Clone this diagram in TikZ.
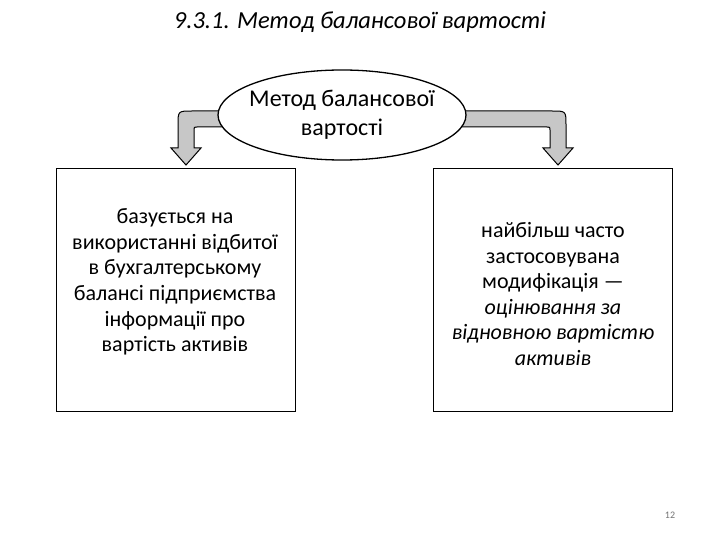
\documentclass[tikz,border=0pt]{standalone}
\usepackage{fontspec}
\usetikzlibrary{shapes.geometric}
\setmainfont{Carlito}
\begin{document}
\begin{tikzpicture}[x=1pt,y=-1pt,
  box/.style={draw,line width=1.3pt,minimum width=239pt,minimum height=243pt,anchor=north west},
  txt/.style={align=center,font=\fontsize{22}{25.6}\selectfont},
  barrow/.style={draw,line width=1pt,fill=black!22,line join=miter}]
\useasboundingbox (0,0) rectangle (720,540);
\node (title) at (360,22) {\fontsize{24.5}{28}\selectfont\itshape 9.3.1. Метод балансової вартості};
\node[box] (L) at (56,168) {};
\node[box] (R) at (433,168) {};
\node[txt] (lt) at (175,282) {базується на\\використанні відбитої\\в бухгалтерському\\балансі підприємства\\інформації про\\вартість активів};
\node[txt] (rt) at (553,294) {найбільш часто\\застосовувана\\модифікація —\\\itshape оцінювання за\\\itshape відновною вартістю\\\itshape активів};
\draw[barrow] (225,111) -- (192,111) .. controls (178,111) .. (178,125) -- (178,148) -- (171,148) -- (186,165) -- (201,148) -- (194,148) -- (194,130) .. controls (194,127) .. (197,127) -- (225,127) -- cycle;
\draw[barrow] (455,111) -- (552,111) .. controls (566,111) .. (566,125) -- (566,148) -- (573,148) -- (558,165) -- (543,148) -- (550,148) -- (550,130) .. controls (550,127) .. (547,127) -- (455,127) -- cycle;
\node[draw,line width=1.3pt,fill=white,ellipse,minimum width=248pt,minimum height=90pt,inner sep=0pt] (E) at (342,115) {};
\node[txt,font=\fontsize{24}{29}\selectfont] (et) at (342,115) {Метод балансової\\вартості};
\node[text=black!55,font=\fontsize{10}{12}\selectfont] (pn) at (670,515) {12};
\end{tikzpicture}
\end{document}
